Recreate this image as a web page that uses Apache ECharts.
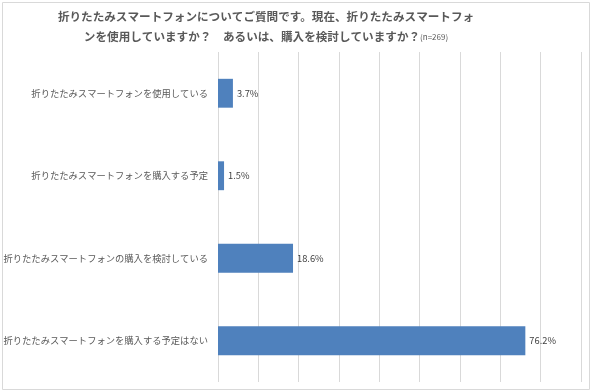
<!DOCTYPE html>
<html>
<head>
<meta charset="utf-8">
<script src="https://cdn.jsdelivr.net/npm/echarts@6/dist/echarts.min.js"></script>
<style>html,body{margin:0;padding:0;background:#fff}#c{width:590px;height:390px}</style>
</head>
<body>
<div id="c"></div>
<script>
const categories = [
  '折りたたみスマートフォンを使用している',
  '折りたたみスマートフォンを購入する予定',
  '折りたたみスマートフォンの購入を検討している',
  '折りたたみスマートフォンを購入する予定はない'
];
const values = [3.7, 1.5, 18.6, 76.2];
const titleLine1 = '折りたたみスマートフォンについてご質問です。現在、折りたたみスマートフォ';
const titleLine2 = 'ンを使用していますか？　あるいは、購入を検討していますか？';
const titleNote = '(n=269)';

const chart = echarts.init(document.getElementById('c'));
const F = '"Noto Sans CJK JP", "Noto Sans", sans-serif';
chart.setOption({
  animation: false,
  textStyle: { fontFamily: F },
  graphic: [{
    type: 'rect', left: 0, top: 0,
    shape: { x: 0.5, y: 0.5, width: 587, height: 387 },
    style: { fill: 'none', stroke: '#d9d9d9', lineWidth: 1 }
  }],
  title: {
    text: titleLine1 + '\n' + titleLine2 + '{n|' + titleNote + '}',
    left: 261, top: 2, textAlign: 'center',
    textStyle: {
      fontFamily: F, fontSize: 11.6, fontWeight: 'bold', color: '#595959', lineHeight: 20, align: 'center',
      rich: { n: { fontSize: 8, fontWeight: 'normal', color: '#595959', fontFamily: F } }
    }
  },
  grid: { left: 218, right: 9, top: 52, bottom: 8, containLabel: false },
  xAxis: {
    type: 'value', min: 0, max: 90, interval: 10,
    axisLabel: { show: false },
    axisLine: { show: false }, axisTick: { show: false },
    splitLine: { lineStyle: { color: '#d9d9d9', width: 1 } }
  },
  yAxis: {
    type: 'category', data: categories, inverse: true,
    axisLine: { show: false }, axisTick: { show: false },
    axisLabel: { fontSize: 9.3, color: '#595959', margin: 10, fontFamily: F }
  },
  series: [{
    type: 'bar', data: values, barWidth: '35%',
    itemStyle: { color: '#4f81bd' },
    label: {
      show: true, position: 'right', distance: 4,
      fontSize: 9.3, color: '#404040', fontFamily: F,
      formatter: p => p.value.toFixed(1) + '%'
    }
  }]
});
</script>
</body>
</html>
